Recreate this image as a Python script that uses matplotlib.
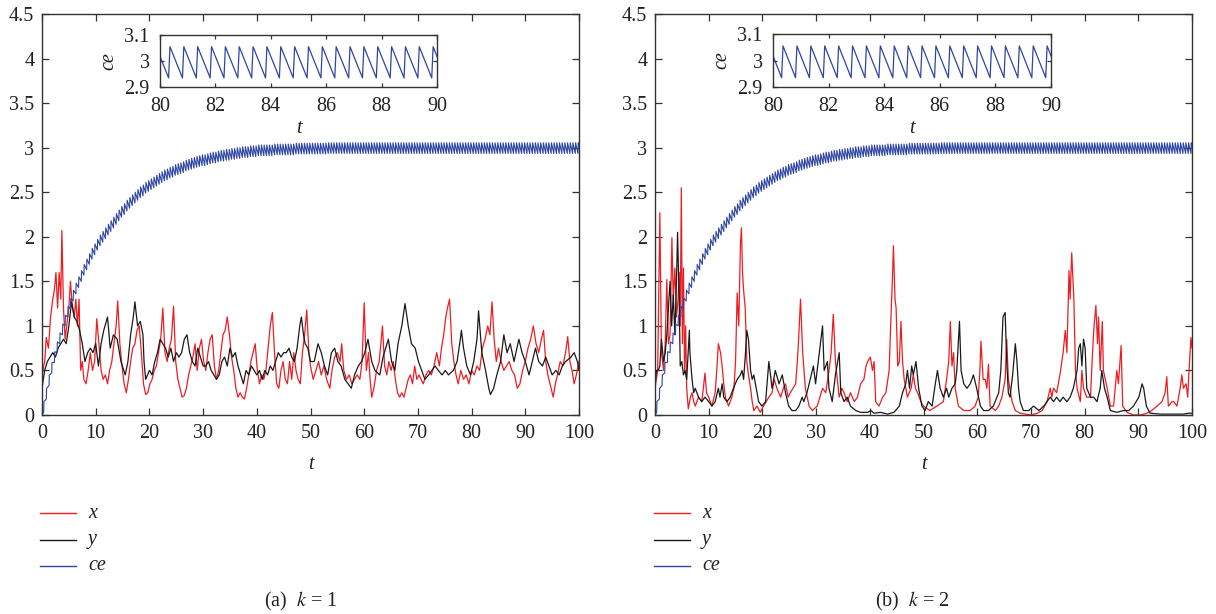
import numpy as np
import matplotlib
matplotlib.use("Agg")
import matplotlib.pyplot as plt
from matplotlib.lines import Line2D

plt.rcParams['font.family'] = ['Liberation Serif', 'DejaVu Serif']
plt.rcParams['mathtext.fontset'] = 'stix'

# ---------------- data ----------------
# ce : impulsive sawtooth, one trough and one peak per tooth (period 0.5)
ce_trough_times_offset = 0.31
ce_peak_times_offset = 0.36
ce_period = 0.5
ce_troughs = [0.03, 0.18, 0.33, 0.47, 0.59, 0.70, 0.80, 0.90, 1.00, 1.10,
              1.19, 1.28, 1.36, 1.43, 1.50, 1.57, 1.63, 1.69, 1.75, 1.80,
              1.85, 1.90, 1.94, 1.98, 2.02, 2.06, 2.10, 2.14, 2.18, 2.22,
              2.25, 2.29, 2.32, 2.35, 2.38, 2.41, 2.44, 2.46, 2.49, 2.51,
              2.53, 2.55, 2.57, 2.59, 2.61, 2.63, 2.64, 2.66, 2.67, 2.69,
              2.70, 2.71, 2.72, 2.74, 2.75, 2.76, 2.77, 2.78, 2.79, 2.80,
              2.80, 2.81, 2.82, 2.83, 2.83, 2.84, 2.85, 2.85, 2.86, 2.86,
              2.87, 2.87, 2.88, 2.88, 2.89, 2.89, 2.89, 2.90, 2.90, 2.90,
              2.91, 2.91, 2.91, 2.91, 2.91, 2.91, 2.92, 2.92, 2.92, 2.92,
              2.92, 2.92, 2.92, 2.92, 2.93, 2.93, 2.93, 2.93, 2.93, 2.93,
              2.93, 2.93, 2.93, 2.93, 2.93, 2.93] + [2.935] * 94
ce_peaks = [0.15, 0.30, 0.45, 0.59, 0.71, 0.82, 0.92, 1.02, 1.12, 1.22,
            1.31, 1.40, 1.48, 1.55, 1.62, 1.69, 1.75, 1.81, 1.87, 1.92,
            1.97, 2.02, 2.06, 2.10, 2.14, 2.18, 2.22, 2.26, 2.30, 2.34,
            2.37, 2.41, 2.44, 2.47, 2.50, 2.53, 2.56, 2.58, 2.61, 2.63,
            2.65, 2.67, 2.69, 2.71, 2.73, 2.75, 2.76, 2.78, 2.79, 2.81,
            2.82, 2.83, 2.84, 2.86, 2.87, 2.88, 2.89, 2.90, 2.91, 2.92,
            2.92, 2.93, 2.94, 2.95, 2.95, 2.96, 2.97, 2.97, 2.98, 2.98,
            2.99, 2.99, 3.00, 3.00, 3.01, 3.01, 3.01, 3.02, 3.02, 3.02,
            3.03, 3.03, 3.03, 3.03, 3.03, 3.03, 3.04, 3.04, 3.04, 3.04,
            3.04, 3.04, 3.04, 3.04, 3.05, 3.05, 3.05, 3.05, 3.05, 3.05,
            3.05, 3.05, 3.05, 3.05, 3.05, 3.05] + [3.055] * 94
ce_start = 0.0
ce_end = 3.02

# panel (a) k = 1 : x (red)
ta_x = [0, 0.5, 0.8, 1.2, 1.6, 2.0, 2.3, 2.6, 2.9, 3.2, 3.5, 3.7, 4.0, 4.3, 4.6, 5.0, 5.3, 5.6, 6.0, 6.3,
        6.6, 6.9, 7.2, 7.5, 7.8, 8.2, 8.6, 9.0, 9.4, 9.8, 10.2, 10.6, 11.0, 11.4, 11.8, 12.2, 12.6, 13.0, 13.4, 13.8,
        14.1, 14.5, 14.9, 15.3, 15.7, 16.1, 16.5, 16.9, 17.3, 17.7, 18.1, 18.5, 18.9, 19.3, 19.7, 20.1, 20.5, 20.9, 21.3, 21.7,
        22.1, 22.5, 22.9, 23.3, 23.7, 24.1, 24.5, 24.9, 25.3, 25.7, 26.1, 26.5, 26.9, 27.3, 27.7, 28.1, 28.5, 28.9, 29.3, 29.7,
        30.1, 30.5, 30.9, 31.3, 31.7, 32.1, 32.5, 32.9, 33.3, 33.7, 34.1, 34.5, 34.9, 35.3, 35.7, 36.1, 36.5, 36.9, 37.3, 37.7,
        38.1, 38.5, 38.9, 39.3, 39.7, 40.1, 40.5, 40.9, 41.3, 41.7, 42.1, 42.5, 42.9, 43.3, 43.7, 44.1, 44.5, 44.9, 45.3, 45.7,
        46.1, 46.5, 46.9, 47.3, 47.7, 48.1, 48.5, 48.9, 49.3, 49.7,
        50.0, 50.5, 51.0, 51.5, 52.0, 52.5, 53.0, 53.6, 54.0, 54.5, 55.0, 55.5, 55.8, 56.2, 56.7, 57.2, 57.7, 58.2, 58.7, 59.2,
        59.6, 60.0, 60.4, 60.8, 61.1, 61.4, 61.8, 62.3, 62.8, 63.1, 63.4, 63.8, 64.2, 64.6, 65.0, 65.4, 65.8, 66.2, 66.6, 67.0,
        67.4, 67.8, 68.2, 68.6, 69.0, 69.4, 69.8, 70.2, 70.6, 71.0, 71.5, 72.0, 72.5, 73.0, 73.5, 74.0, 74.4, 74.8, 75.2, 75.5,
        75.9, 76.3, 76.7, 77.1, 77.5, 78.0, 78.5, 79.0, 79.5, 80.0, 80.5, 81.0, 81.5, 82.0, 82.5, 83.0, 83.4, 83.8, 84.2, 84.6,
        85.0, 85.5, 86.0, 86.5, 87.0, 87.5, 88.0, 88.5, 89.0, 89.5, 90.0, 90.5, 91.0, 91.5, 92.0, 92.5, 93.0, 93.4, 93.8, 94.2,
        94.6, 95.0, 95.2, 95.6, 96.0, 96.5, 97.0, 97.5, 97.9, 98.3, 98.7, 99.1, 99.5, 100]
xa = [0.45, 0.6, 0.87, 0.75, 1.1, 1.3, 1.4, 1.6, 1.2, 1.6, 1.3, 2.07, 1.2, 0.85, 1.0, 1.2, 1.5, 1.25, 1.1, 1.3,
      1.0, 1.3, 0.5, 0.6, 0.4, 0.35, 0.5, 0.7, 0.5, 0.6, 1.08, 0.8, 0.5, 0.4, 0.45, 0.35, 0.5, 0.6, 0.8, 1.0,
      1.28, 0.8, 0.55, 0.35, 0.25, 0.4, 0.6, 0.75, 0.8, 0.95, 1.0, 0.7, 0.35, 0.23, 0.25, 0.35, 0.4, 0.5, 0.55, 0.7,
      0.85, 1.2, 0.7, 0.6, 0.75, 0.85, 1.22, 0.6, 0.4, 0.3, 0.2, 0.22, 0.3, 0.45, 0.55, 0.65, 0.8, 0.5, 0.75, 0.85,
      0.6, 0.5, 0.7, 0.85, 0.9, 0.55, 0.4, 0.5, 0.7, 0.9, 0.95, 1.1, 0.9, 0.65, 0.5, 0.3, 0.2, 0.25, 0.2, 0.18,
      0.3, 0.45, 0.6, 0.7, 0.8, 0.5, 0.35, 0.45, 0.4, 0.5, 0.75, 1.0, 1.15, 0.7, 0.35, 0.3, 0.5, 0.6, 0.4, 0.35,
      0.6, 0.4, 0.7, 0.5, 0.4, 0.35, 0.7, 0.9, 1.18, 0.7,
      0.55, 0.4, 0.5, 0.6, 0.45, 0.55, 0.4, 0.3, 0.5, 0.65, 0.7, 0.6, 0.8, 0.5, 0.4, 0.45, 0.35, 0.4, 0.45, 0.4,
      0.6, 1.26, 0.5, 0.7, 0.4, 0.2, 0.3, 0.5, 0.6, 0.8, 1.0, 0.55, 0.45, 0.6, 0.5, 0.6, 0.4, 0.25, 0.2, 0.25,
      0.2, 0.3, 0.4, 0.45, 0.35, 0.55, 0.4, 0.45, 0.4, 0.35, 0.45, 0.5, 0.45, 0.55, 0.7, 0.55, 0.75, 0.9, 1.1, 1.2,
      1.3, 0.8, 0.6, 0.45, 0.35, 0.5, 0.4, 0.45, 0.35, 0.5, 0.45, 0.55, 0.5, 0.75, 0.85, 1.0, 0.9, 1.27, 0.85, 0.6,
      0.75, 0.6, 0.5, 0.55, 0.6, 0.5, 0.45, 0.3, 0.35, 0.5, 0.6, 0.75, 0.85, 1.0, 0.8, 0.7, 0.85, 0.95, 0.6, 0.45,
      0.35, 0.25, 0.2, 0.35, 0.45, 0.6, 0.55, 0.7, 0.88, 0.6, 0.5, 0.35, 0.45, 0.6]

# panel (a) k = 1 : y (black)
ta_y = [0, 0.5, 1, 1.5, 2, 2.5, 3, 3.5, 4, 4.5, 5, 5.5, 6, 6.5, 7, 7.5, 8, 8.5, 9, 9.5,
        10, 10.5, 11, 11.5, 12.2, 12.7, 13.3, 14, 14.7, 15.5, 16, 16.5, 17, 17.3, 17.8, 18.3, 18.8, 19.0, 19.3, 20,
        20.5, 21, 21.5, 22, 22.5, 23, 23.5, 24, 24.5, 25, 25.5, 26, 26.5, 27, 27.5, 28, 28.5, 29, 29.5, 30,
        30.5, 31, 31.5, 32, 32.5, 33, 33.5, 34, 34.5, 35, 35.5, 36, 36.5, 37, 37.5, 38, 38.5, 39, 39.5, 40,
        40.5, 41, 41.5, 42, 42.5, 43, 43.5, 44, 44.5, 45, 45.5, 46, 46.5, 47, 47.5, 48, 48.3, 48.7, 49, 49.5, 50,
        50.7, 51.4, 52, 52.6, 53.2, 53.9, 54.5, 55.1, 55.7, 56.4, 57, 57.6, 58.2, 58.9, 59.5, 60.1, 60.7, 61.4, 62, 62.9,
        63.5, 64.5, 65.1, 65.7, 66.3, 67, 67.6, 68.2, 68.8, 69.5, 70.1, 70.7, 71.3, 72, 72.6, 73.2, 73.8, 74.5, 75.1, 75.7,
        76.6, 77.3, 77.9, 78.1, 78.5, 79.1, 79.8, 80.4, 81, 81.3, 81.9, 82.6, 83.2, 83.5, 84.1, 84.7, 85.4, 86, 86.6, 87.2,
        87.9, 88.8, 89.4, 90, 90.7, 91.3, 91.9, 92.5, 93.2, 93.8, 94.4, 95, 95.7, 96.3, 96.9, 97.5, 98.5, 99.1, 99.7, 100]
ya = [0.3, 0.5, 0.6, 0.65, 0.7, 0.65, 0.75, 0.8, 0.85, 0.8, 1.0, 1.27, 1.1, 1.05, 0.95, 0.8, 0.6, 0.7, 0.75, 0.7,
      0.8, 0.55, 0.8, 0.95, 1.1, 0.75, 0.9, 0.85, 0.6, 0.45, 0.6, 0.9, 1.1, 1.27, 1.0, 1.05, 0.9, 0.6, 0.4, 0.5,
      0.45, 0.6, 0.7, 0.85, 0.8, 0.75, 0.65, 0.75, 0.6, 0.7, 0.65, 0.7, 0.85, 0.9, 0.7, 0.6, 0.55, 0.75, 0.65, 0.55,
      0.55, 0.6, 0.5, 0.45, 0.4, 0.45, 0.6, 0.65, 0.55, 0.75, 0.65, 0.7, 0.55, 0.45, 0.35, 0.5, 0.45, 0.55, 0.5, 0.45,
      0.5, 0.4, 0.5, 0.45, 0.55, 0.5, 0.6, 0.7, 0.65, 0.7, 0.7, 0.75, 0.65, 0.6, 0.75, 1.0, 1.1, 0.9, 0.8, 0.75, 0.6,
      0.6, 0.8, 0.7, 0.55, 0.45, 0.7, 0.75, 0.6, 0.55, 0.4, 0.35, 0.3, 0.45, 0.55, 0.6, 0.7, 0.85, 0.6, 0.5, 0.45,
      0.65, 0.85, 0.6, 0.5, 0.8, 1.0, 1.25, 1.0, 0.8, 0.75, 0.6, 0.5, 0.4, 0.45, 0.5, 0.55, 0.5, 0.45, 0.5, 0.45,
      0.5, 0.6, 0.85, 0.95, 0.75, 0.55, 0.45, 0.6, 0.85, 1.17, 0.7, 0.5, 0.3, 0.23, 0.3, 0.45, 0.6, 0.9, 0.7, 0.8,
      0.6, 0.85, 0.7, 0.6, 0.45, 0.6, 0.75, 0.6, 0.55, 0.65, 0.55, 0.45, 0.5, 0.45, 0.55, 0.6, 0.65, 0.7, 0.6, 0.5]

# panel (b) k = 2 : x (red)
tb_x = [0, 0.5, 0.9, 1.2, 1.6, 1.9, 2.2, 2.5, 2.8, 3.15, 3.4, 3.7, 4.0, 4.3, 4.5, 4.7, 4.9, 5.1, 5.3, 5.5,
        5.7, 5.9, 6.2, 6.6, 6.9, 7.2, 7.5, 8.1, 8.7, 9.0, 9.3, 9.6, 10, 10.6, 11.2, 11.5, 11.8, 12.2, 12.5, 12.8,
        13.1, 13.7, 14.3, 14.7, 15.0, 15.3, 15.6, 15.9, 16.1, 16.3, 16.5, 16.8, 17.1, 17.4, 17.8, 18.1, 18.4, 19, 19.6, 20.2,
        20.7, 21.2, 21.8, 22.2, 22.7, 23.4, 23.9, 24.3, 24.8, 25.2, 25.7, 26.2, 26.5, 26.7, 27.1, 27.3, 27.5, 28, 28.7, 29.3,
        30.2, 30.7, 31.2, 31.8, 32.4, 32.8, 33.2, 33.6, 34.3, 34.8, 35.2, 35.8, 36.4, 37.1, 37.7, 38.3, 38.9, 39.3, 39.6, 40.1,
        40.5, 40.8, 41.1, 41.7, 42.4, 43, 43.6, 44, 44.2, 44.4, 44.7, 44.9, 45.2, 45.5, 45.8, 46.1, 46.4, 47, 47.7, 48.1,
        48.5, 48.9, 49.5, 50, 51.2, 52.5, 53.7, 54.3, 54.7, 55, 55.3, 55.6, 55.9, 56.5, 57.5, 58.7, 59.6, 60.2, 60.5, 60.7,
        61.1, 61.5, 61.8, 62.1, 62.4, 63.4, 64, 64.6, 65.2, 65.5, 65.8, 66.5, 67.1, 68, 70, 71.2, 72.1, 73, 73.6, 73.9,
        74.2, 74.8, 75.4, 76, 76.4, 76.7, 77.1, 77.3, 77.6, 78, 78.3, 78.6, 79.2, 79.5, 79.8, 80.4, 81.1, 81.4, 81.7, 82.1,
        82.4, 82.6, 82.9, 83.3, 83.5, 84.2, 84.8, 85.4, 86, 86.3, 86.8, 87.1, 87.9, 89.1, 90.4, 91.6, 92.5, 93.5, 94.4, 95,
        95.3, 95.6, 96.3, 96.6, 97.2, 97.8, 98.1, 98.4, 98.9, 99.2, 99.5, 99.8, 100]
xb = [0.3, 0.5, 2.27, 0.7, 0.5, 0.8, 1.52, 0.8, 0.9, 1.99, 1.3, 1.65, 1.1, 1.3, 1.6, 1.0, 2.55, 0.8, 1.65, 0.5,
      1.0, 0.3, 0.07, 0.2, 0.25, 0.15, 0.1, 0.2, 0.15, 0.3, 0.47, 0.25, 0.2, 0.1, 0.25, 0.5, 0.8, 0.7, 0.55, 0.35,
      0.2, 0.1, 0.2, 0.3, 0.6, 1.37, 1.0, 1.9, 2.1, 1.6, 1.4, 1.2, 0.6, 0.45, 0.3, 0.15, 0.05, 0.1, 0.03, 0.1,
      0.15, 0.2, 0.25, 0.4, 0.3, 0.2, 0.3, 0.35, 0.2, 0.25, 0.3, 0.35, 0.6, 0.8, 1.3, 1.0, 0.7, 0.3, 0.1, 0.05,
      0.1, 0.2, 0.3, 0.25, 0.5, 0.7, 1.13, 0.6, 0.2, 0.3, 0.25, 0.15, 0.25, 0.15, 0.2, 0.35, 0.4, 0.55, 0.6, 0.65,
      0.5, 0.6, 0.15, 0.1, 0.2, 0.25, 0.5, 1.2, 1.5, 1.9, 1.3, 1.2, 0.55, 0.6, 1.05, 0.6, 0.4, 0.2, 0.3, 0.45,
      0.3, 0.25, 0.15, 0.1, 0.05, 0.1, 0.15, 0.4, 0.6, 1.05, 0.55, 0.7, 0.3, 0.1, 0.05, 0.05, 0.1, 0.2, 0.5, 0.83,
      0.4, 0.4, 0.3, 0.57, 0.1, 0.05, 0.1, 0.2, 0.4, 0.85, 0.4, 0.15, 0.05, 0.02, 0.0, 0.02, 0.05, 0.15, 0.3, 0.2,
      0.3, 0.25, 0.45, 0.7, 0.95, 0.7, 1.62, 1.3, 1.82, 1.3, 0.5, 0.3, 0.15, 0.5, 0.3, 0.2, 0.2, 0.6, 0.95, 1.23,
      0.8, 1.1, 0.5, 1.05, 0.5, 0.3, 0.1, 0.1, 0.5, 0.35, 0.78, 0.1, 0.03, 0.0, 0.0, 0.02, 0.05, 0.1, 0.15, 0.25,
      0.43, 0.1, 0.15, 0.15, 0.1, 0.3, 0.45, 0.3, 0.35, 0.2, 0.55, 0.87, 0.75]

# panel (b) k = 2 : y (black)
tb_y = [0, 0.3, 0.6, 0.9, 1.2, 1.6, 1.9, 2.2, 2.5, 2.8, 3.1, 3.4, 3.7, 4.0, 4.2, 4.5, 4.7, 5.0, 5.3, 5.6,
        5.9, 6.4, 6.5, 6.9, 7.2, 7.5, 8.1, 8.7, 9.3, 10, 10.6, 11.2, 11.8, 12.1, 12.5, 12.8, 13.4, 14, 14.6, 15.3,
        15.9, 16.2, 16.5, 16.8, 17.1, 17.4, 17.8, 18.1, 18.4, 18.7, 19.3, 19.9, 20.6, 21.2, 21.8, 22.4, 23.1, 23.7, 24.3, 24.9,
        25.5, 26.2, 26.8, 27.4, 27.7, 28.3, 28.9, 29.5, 29.9, 30.5, 31.2, 31.5, 32.1, 32.4, 33, 33.6, 34.3, 34.6, 35.2, 35.8,
        36.4, 37.4, 38.3, 39.6, 40.2, 40.8, 42, 43.3, 44.5, 45.5, 46.1, 46.7, 47, 47.4, 47.8, 48.1, 48.6, 49.1, 49.7, 50.3,
        50.9, 51.6, 52.2, 52.6, 53.1, 53.7, 54.3, 54.7, 55.3, 55.9, 56.2, 56.7, 57, 57.5, 58.1, 58.7, 59.3, 59.9, 60.6, 61.2,
        62.1, 63, 64, 64.4, 64.8, 65.2, 65.5, 65.8, 66.1, 66.6, 67.1, 67.4, 67.7, 68, 68.6, 69.6, 70.5, 71.5, 72.4, 73,
        73.6, 74.2, 74.8, 75.4, 76, 76.7, 77.3, 77.9, 78.6, 78.9, 79.2, 79.5, 79.8, 80.1, 80.4, 81.1, 81.7, 82.3, 82.9, 83.2,
        83.7, 84.2, 84.8, 86, 87.2, 88.2, 89.1, 90.1, 90.7, 91, 91.5, 92.2, 94.1, 97.2, 98.4, 99.4, 100]
yb = [0.35, 0.5, 0.5, 0.55, 0.85, 0.6, 0.7, 0.9, 1.2, 1.5, 1.0, 1.35, 0.9, 1.5, 2.05, 1.3, 0.55, 0.6, 0.45, 0.5,
      0.4, 0.95, 0.7, 0.4, 0.25, 0.3, 0.2, 0.15, 0.2, 0.15, 0.1, 0.15, 0.3, 0.2, 0.35, 0.2, 0.15, 0.2, 0.3, 0.4,
      0.45, 0.5, 0.4, 0.65, 0.95, 0.85, 0.5, 0.4, 0.45, 0.35, 0.15, 0.1, 0.15, 0.6, 0.3, 0.5, 0.35, 0.45, 0.25, 0.1,
      0.05, 0.05, 0.1, 0.2, 0.15, 0.25, 0.4, 0.55, 0.35, 0.65, 1.0, 0.5, 0.6, 0.3, 0.15, 0.45, 0.7, 0.25, 0.15, 0.2,
      0.1, 0.05, 0.03, 0.03, 0.05, 0.02, 0.03, 0.01, 0.03, 0.1, 0.25, 0.35, 0.5, 0.3, 0.55, 0.45, 0.6, 0.3, 0.1, 0.05,
      0.15, 0.1, 0.35, 0.5, 0.3, 0.2, 0.3, 0.2, 0.3, 0.35, 0.5, 1.05, 0.5, 0.35, 0.3, 0.35, 0.45, 0.3, 0.1, 0.05,
      0.05, 0.1, 0.25, 0.5, 1.1, 1.15, 0.6, 0.25, 0.2, 0.45, 0.8, 0.6, 0.3, 0.15, 0.05, 0.05, 0.1, 0.05, 0.1, 0.15,
      0.2, 0.15, 0.2, 0.15, 0.2, 0.15, 0.2, 0.3, 0.5, 0.75, 0.8, 0.55, 0.85, 0.75, 0.3, 0.2, 0.2, 0.15, 0.3, 0.5,
      0.3, 0.2, 0.05, 0.03, 0.05, 0.05, 0.1, 0.2, 0.35, 0.3, 0.1, 0.02, 0.01, 0.01, 0.01, 0.02, 0.02]

panels = [
    dict(tx=ta_x, x=xa, ty=ta_y, y=ya, caption="(a)  $k$ = 1"),
    dict(tx=tb_x, x=xb, ty=tb_y, y=yb, caption="(b)  $k$ = 2"),
]
series_labels = ["x", "y", "ce"]
main_xticks = list(range(0, 101, 10))
main_yticks = [0, 0.5, 1, 1.5, 2, 2.5, 3, 3.5, 4, 4.5]
main_yticklabels = ['0', '0.5', '1', '1.5', '2', '2.5', '3', '3.5', '4', '4.5']
inset_xticks = [80, 82, 84, 86, 88, 90]
inset_yticks = [2.9, 3.0, 3.1]
inset_yticklabels = ['2.9', '3', '3.1']

# ---------------- build the ce sawtooth sequence ----------------
k = np.arange(len(ce_troughs))
t_tr = ce_trough_times_offset + ce_period * k
t_pk = ce_peak_times_offset + ce_period * k
ce_t = np.concatenate([[0.0], np.column_stack([t_tr, t_pk]).ravel(), [100.0]])
ce_v = np.concatenate([[ce_start], np.column_stack([ce_troughs, ce_peaks]).ravel(), [ce_end]])

# ---------------- style ----------------
RED = '#ee1d23'
BLACK = '#1a1a1a'
BLUE = '#2e45a3'
AXC = '#333333'
TXT = '#222222'
FS = 14.5

W, H = 1216, 614
def rect(l, t, r, b):
    return [l / W, 1 - b / H, (r - l) / W, (b - t) / H]

fig = plt.figure(figsize=(W / 100, H / 100), dpi=100)

def style_axes(ax, fs, length):
    for s in ax.spines.values():
        s.set_color(AXC)
        s.set_linewidth(1.0)
    ax.tick_params(direction='in', top=True, right=True, length=length, width=0.9,
                   colors=AXC, labelsize=fs, labelcolor=TXT)

main_rects = [rect(42, 14, 579, 415), rect(655, 14, 1192, 415)]
inset_rects = [rect(160, 35, 437, 87), rect(773, 34, 1051, 87)]
legend_x0 = [40, 654]
caption_x = [301, 912]

for i, p in enumerate(panels):
    ax = fig.add_axes(main_rects[i])
    ax.plot(p['tx'], p['x'], color=RED, lw=0.9, label=series_labels[0])
    ax.plot(p['ty'], p['y'], color=BLACK, lw=0.9, label=series_labels[1])
    ax.plot(ce_t, ce_v, color=BLUE, lw=0.8, label=series_labels[2])
    ax.set_xlim(0, 100)
    ax.set_ylim(0, 4.5)
    ax.set_xticks(main_xticks)
    ax.set_yticks(main_yticks)
    ax.set_yticklabels(main_yticklabels)
    style_axes(ax, FS, 5)
    ax.tick_params(axis='x', pad=6.5)
    ax.tick_params(axis='y', pad=5.5)
    ax.set_xlabel('t', fontstyle='italic', fontsize=FS, labelpad=8.5, color=TXT)

    ins = fig.add_axes(inset_rects[i])
    ins.plot(ce_t, ce_v, color=BLUE, lw=0.9)
    ins.set_xlim(80, 90)
    ins.set_ylim(2.9, 3.1)
    ins.set_xticks(inset_xticks)
    ins.set_yticks(inset_yticks)
    ins.set_yticklabels(inset_yticklabels)
    style_axes(ins, FS, 3)
    ins.tick_params(axis='x', pad=7)
    ins.tick_params(axis='y', pad=7.5)
    ins.set_xlabel('t', fontstyle='italic', fontsize=FS, labelpad=2.5, color=TXT)
    ins.set_ylabel('ce', fontstyle='italic', fontsize=FS, labelpad=4, color=TXT)

    # legend below the panel
    handles = ax.get_lines()
    for j, (h, lab) in enumerate(zip(handles, series_labels)):
        yy = 1 - (513 + 26.5 * j) / H
        fig.add_artist(Line2D([legend_x0[i] / W, (legend_x0[i] + 36) / W], [yy, yy],
                              color=h.get_color(), lw=1.0, transform=fig.transFigure))
        fig.text((legend_x0[i] + 48) / W, yy, lab, fontstyle='italic', fontsize=FS,
                 va='center', ha='left', color=TXT)

    fig.text(caption_x[i] / W, 1 - 601 / H, p['caption'], ha='center', va='center',
             fontsize=FS, color=TXT)

fig.savefig('out.png', dpi=100)
